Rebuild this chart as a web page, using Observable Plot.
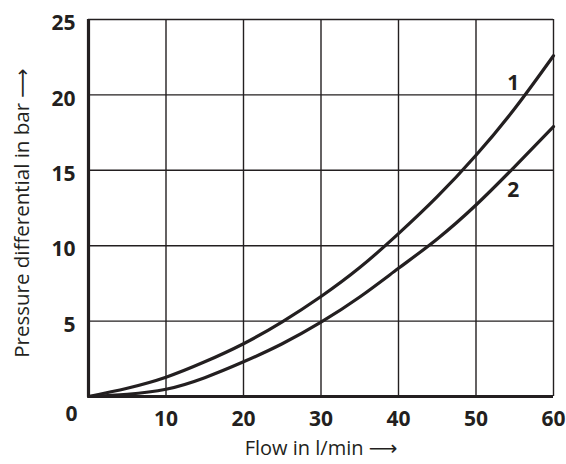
<!DOCTYPE html>
<html>
<head>
<meta charset="utf-8">
<script src="https://cdn.jsdelivr.net/npm/d3@7"></script>
<script src="https://cdn.jsdelivr.net/npm/@observablehq/plot@0.6"></script>
<style>
  body { margin: 0; background: #fff; }
  #chart svg { display: block; }
</style>
</head>
<body>
<div id="chart"></div>
<script>
const flow = [0, 5, 10, 15, 20, 25, 30, 35, 40, 45, 50, 55, 60];
const curve1 = [0, 0.55, 1.28, 2.3, 3.5, 4.95, 6.63, 8.55, 10.8, 13.25, 16.0, 19.1, 22.6];
const curve2 = [0, 0.15, 0.48, 1.25, 2.3, 3.5, 4.93, 6.6, 8.5, 10.45, 12.7, 15.25, 17.9];
const xTicks = [0, 10, 20, 30, 40, 50, 60];
const yTicks = [5, 10, 15, 20, 25];
const seriesLabels = [
  {name: "1", x: 54.8, y: 20.8},
  {name: "2", x: 54.8, y: 13.7}
];
const xTitle = "Flow in l/min \u27F6";
const yTitle = "Pressure differential in bar \u27F6";

const ink = "#231f20";
const font = "'Open Sans', 'Noto Sans', 'DejaVu Sans', sans-serif";
const data = [
  ...flow.map((f, i) => ({series: "1", flow: f, p: curve1[i]})),
  ...flow.map((f, i) => ({series: "2", flow: f, p: curve2[i]}))
];

const chart = Plot.plot({
  width: 566,
  height: 464,
  marginLeft: 88,
  marginRight: 13,
  marginTop: 19,
  marginBottom: 68,
  style: {fontFamily: font, color: ink, background: "#fff"},
  x: {domain: [0, 60]},
  y: {domain: [0, 25]},
  marks: [
    Plot.ruleX(xTicks.filter(d => d > 0), {stroke: ink, strokeWidth: 1.4}),
    Plot.ruleY(yTicks, {stroke: ink, strokeWidth: 1.4}),
    Plot.ruleX([0], {stroke: ink, strokeWidth: 3.2}),
    Plot.ruleY([0], {stroke: ink, strokeWidth: 3.2}),
    Plot.line(data, {x: "flow", y: "p", z: "series", curve: "natural", stroke: ink, strokeWidth: 3.2}),
    Plot.text(seriesLabels, {x: "x", y: "y", text: "name", fontSize: 21, fontWeight: "bold", fill: ink}),
    Plot.axisX(xTicks.filter(d => d > 0), {tickSize: 0, tickPadding: 15, fontSize: 21, fontWeight: "bold", fill: ink, label: null}),
    Plot.text([0], {x: d => d, frameAnchor: "bottom", dy: 24, dx: -17, text: d => String(d), fontSize: 21, fontWeight: "bold", fill: ink}),
    Plot.axisY(yTicks, {tickSize: 0, tickPadding: 13, dy: 4, fontSize: 21, fontWeight: "bold", fill: ink, label: null}),
    Plot.text([xTitle], {frameAnchor: "bottom", dy: 58, fontSize: 20, fill: ink}),
    Plot.text([yTitle], {frameAnchor: "left", textAnchor: "middle", dx: -66, dy: 5, rotate: -90, fontSize: 20.5, fill: ink})
  ]
});
document.getElementById("chart").appendChild(chart);
</script>
</body>
</html>
